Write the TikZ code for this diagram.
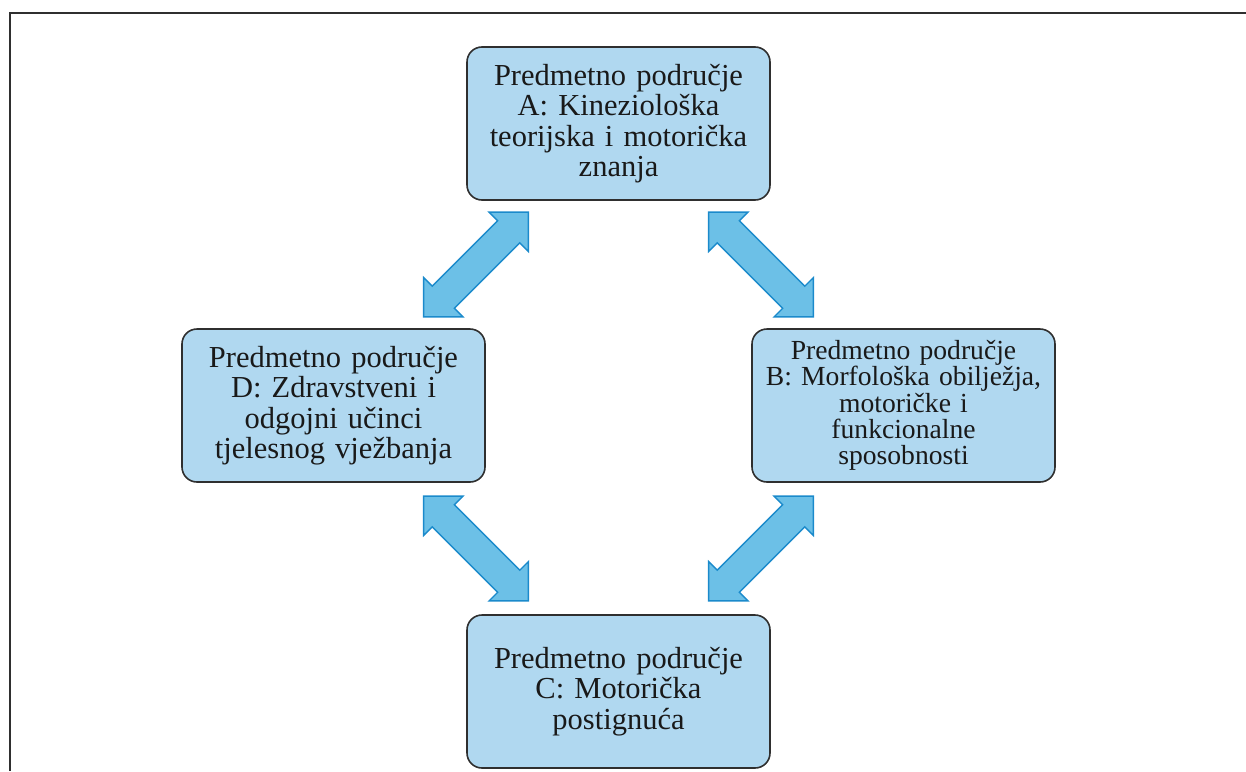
\documentclass[tikz,border=0pt]{standalone}
\usepackage{fontspec}
\setmainfont{Liberation Serif}
\usetikzlibrary{calc,shapes.arrows}
\definecolor{boxblue}{HTML}{B0D8F0}
\definecolor{arrowblue}{HTML}{6CC0E7}
\definecolor{arrowedge}{HTML}{1B8ACB}
\definecolor{edgegray}{HTML}{2F2F2F}

\begin{document}
\begin{tikzpicture}[x=1pt,y=-1pt]
    \tikzset{
    area/.style={
        draw=edgegray,
        line width=1.6pt,
        fill=boxblue,
        rounded corners=15pt,
        minimum width=303pt,
        minimum height=153pt,
        text width=295pt,
        align=center,
        font=\fontsize{30.5}{30.5}\selectfont,
        text=black!90
    },
    link/.style={
        double arrow,
        draw=arrowedge,
        fill=arrowblue,
        line width=1.4pt,
        double arrow head extend=12pt,
        double arrow tip angle=90,
        inner xsep=0pt,
        inner ysep=15pt,
        minimum height=148pt
    }
}
    \useasboundingbox (0,0) rectangle (1246,771);
    \draw[edgegray, line width=2.4pt] (10,771) -- (10,13) -- (1246,13);

        \node[area] (A) at (618.5,123.5) {Predmetno područje\\A: Kineziološka\\teorijska i motorička\\znanja};

        \node[area] (D) at (333.5,405.5) {Predmetno područje\\D: Zdravstveni i\\odgojni učinci\\tjelesnog vježbanja};

        \node[area, font=\fontsize{27.6}{26.3}\selectfont] (B) at (903.5,405.5) {Predmetno područje\\B: Morfološka obilježja,\\motoričke i\\funkcionalne\\sposobnosti};

        \node[area] (C) at (618.5,691.5) {Predmetno područje\\C: Motorička\\postignuća};

        \node[link, rotate=45] (AD) at ($(A.south west)!0.5!(D.north east)$) {};
        \node[link, rotate=-45] (AB) at ($(A.south east)!0.5!(B.north west)$) {};
        \node[link, rotate=-45] (DC) at ($(D.south east)!0.5!(C.north west)$) {};
        \node[link, rotate=45] (BC) at ($(B.south west)!0.5!(C.north east)$) {};
    \end{tikzpicture}
\end{document}
